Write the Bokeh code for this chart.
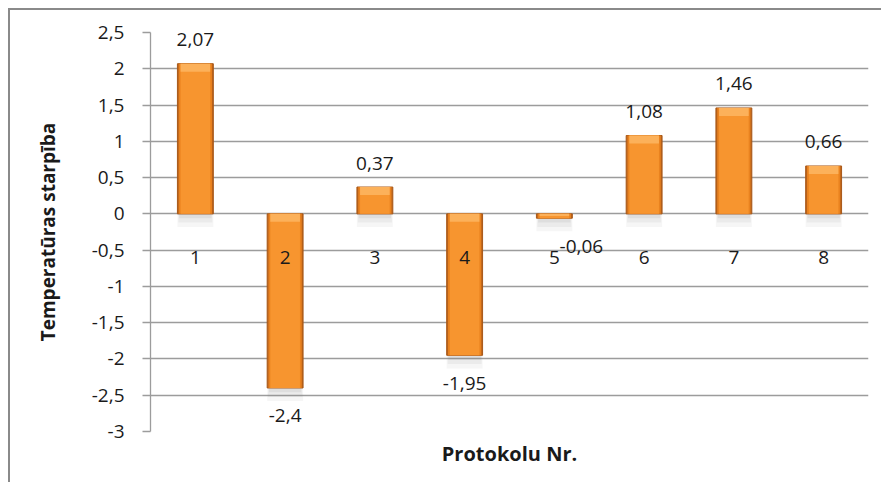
from bokeh.plotting import figure
from bokeh.models import Range1d, FixedTicker, ColumnDataSource, LabelSet
from bokeh.core.properties import value
from bokeh.embed import file_html
from bokeh.resources import INLINE

# ---- data ----
categories = ["1", "2", "3", "4", "5", "6", "7", "8"]
values = [2.07, -2.4, 0.37, -1.95, -0.06, 1.08, 1.46, 0.66]
value_labels = ["2,07", "-2,4", "0,37", "-1,95", "-0,06", "1,08", "1,46", "0,66"]
y_ticks = [-3, -2.5, -2, -1.5, -1, -0.5, 0, 0.5, 1, 1.5, 2, 2.5]
y_tick_labels = ["-3", "-2,5", "-2", "-1,5", "-1", "-0,5", "0", "0,5", "1", "1,5", "2", "2,5"]
label_x_shift = [0, 0, 0, 0, 27, 0, 0, 0]

FONT = "Open Sans"
TXT = "#1a1a1a"
GRID = "#9c9c9c"

xs = list(range(1, len(categories) + 1))
tops = [max(0, v) for v in values]
bottoms = [min(0, v) for v in values]

p = figure(width=873, height=474, output_backend="svg", toolbar_location=None,
           x_range=Range1d(0.5, len(categories) + 0.5), y_range=Range1d(-3, 2.5),
           min_border_left=140, min_border_right=15, min_border_top=22, min_border_bottom=53)
p.styles = {"border-left": "2px solid #8a8a8a", "border-top": "2px solid #8a8a8a",
            "margin-left": "8px", "margin-top": "8px"}
p.outline_line_color = None
p.background_fill_color = "white"
p.border_fill_color = "white"

# grid
p.xgrid.grid_line_color = None
p.ygrid.ticker = FixedTicker(ticks=y_ticks)
p.ygrid.grid_line_color = GRID
p.ygrid.grid_line_width = 1.3

# y axis
p.yaxis.ticker = FixedTicker(ticks=y_ticks)
p.yaxis.major_label_overrides = {t: l for t, l in zip(y_ticks, y_tick_labels)}
p.yaxis.axis_line_color = GRID
p.yaxis.axis_line_width = 1.3
p.yaxis.major_tick_line_color = GRID
p.yaxis.major_tick_line_width = 1.3
p.yaxis.major_tick_out = 8
p.yaxis.major_tick_in = 0
p.yaxis.minor_tick_line_color = None
p.yaxis.major_label_standoff = 18
p.yaxis.major_label_text_font = FONT
p.yaxis.major_label_text_font_size = "19px"
p.yaxis.major_label_text_color = TXT
p.yaxis.axis_label = "Temperatūras starpība"
p.yaxis.axis_label_text_font = FONT
p.yaxis.axis_label_text_font_style = "bold"
p.yaxis.axis_label_text_font_size = "19px"
p.yaxis.axis_label_text_color = TXT
p.yaxis.axis_label_standoff = 28

# x axis: only title
p.xaxis.ticker = FixedTicker(ticks=[])
p.xaxis.axis_line_color = None
p.xaxis.major_tick_line_color = None
p.xaxis.minor_tick_line_color = None
p.xaxis.axis_label = "Protokolu Nr."
p.xaxis.axis_label_text_font = FONT
p.xaxis.axis_label_text_font_style = "bold"
p.xaxis.axis_label_text_font_size = "20px"
p.xaxis.axis_label_text_color = TXT
p.xaxis.axis_label_standoff = 8

src = ColumnDataSource(dict(x=xs, top=tops, bottom=bottoms, v=values, lab=value_labels,
                            cat=categories, sh=label_x_shift,
                            ytext=values,
                            off=[24 if v >= 0 else -28 for v in values],
                            shadow_top=bottoms,
                            shadow_bot1=[b - 0.06 for b in bottoms],
                            shadow_bot2=[b - 0.12 for b in bottoms],
                            shadow_bot3=[b - 0.18 for b in bottoms],
                            bevel_bot=[t - min(0.11, (t - b) * 0.5) for t, b in zip(tops, bottoms)]))

# shadows
p.vbar(x="x", top="shadow_top", bottom="shadow_bot3", width=0.40, source=src,
       fill_color="#808080", fill_alpha=0.07, line_color=None)
p.vbar(x="x", top="shadow_top", bottom="shadow_bot2", width=0.38, source=src,
       fill_color="#808080", fill_alpha=0.09, line_color=None)
p.vbar(x="x", top="shadow_top", bottom="shadow_bot1", width=0.36, source=src,
       fill_color="#808080", fill_alpha=0.12, line_color=None)

# bars (layered to imitate bevel gradient)
p.vbar(x="x", top="top", bottom="bottom", width=0.40, source=src,
       fill_color="#b9631b", line_color="#a85818", line_width=1)
p.vbar(x="x", top="top", bottom="bottom", width=0.37, source=src,
       fill_color="#e9821f", line_color=None)
p.vbar(x="x", top="top", bottom="bottom", width=0.33, source=src,
       fill_color="#f7952f", line_color=None)
p.vbar(x="x", top="top", bottom="bevel_bot", width=0.33, source=src,
       fill_color="#fcb15a", line_color=None)

# category labels along the zero line
p.text(x="x", y=0, text="cat", source=src, y_offset=44, text_align="center",
       text_baseline="middle", text_font=value(FONT), text_font_size="19px", text_color=TXT)

# value labels (annotation, so they are not clipped at the frame edge)
labels = LabelSet(x="x", y="ytext", text="lab", source=src, x_offset="sh", y_offset="off",
                  text_align="center", text_baseline="middle", text_font=value(FONT),
                  text_font_size=value("19px"), text_color=TXT)
p.add_layout(labels)

open("out.html", "w").write(file_html(p, INLINE))
